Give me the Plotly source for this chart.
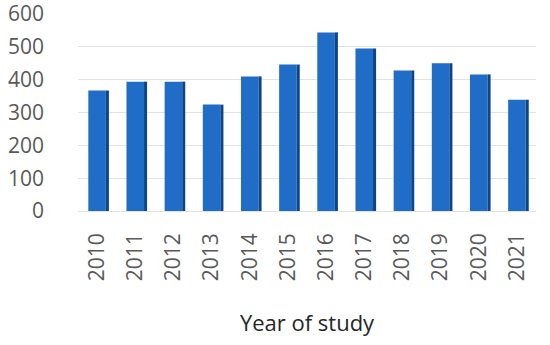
import plotly.graph_objects as go

years = ["2010", "2011", "2012", "2013", "2014", "2015", "2016", "2017", "2018", "2019", "2020", "2021"]
counts = [367, 394, 394, 324, 410, 446, 544, 495, 428, 450, 416, 339]
y_ticks = [0, 100, 200, 300, 400, 500, 600]

front_color = "#1F6DC6"
side_color = "#0E4685"

fig = go.Figure()
fig.add_trace(go.Bar(
    x=years, y=counts, width=0.46, offset=-0.23,
    marker=dict(color=front_color, line=dict(width=0)),
    showlegend=False, hoverinfo="x+y",
))
fig.add_trace(go.Bar(
    x=years, y=counts, width=0.08, offset=0.23,
    marker=dict(color=side_color, line=dict(width=0)),
    showlegend=False, hoverinfo="skip",
))

fig.update_layout(
    width=550, height=345,
    margin=dict(l=78, r=14, t=14, b=134, autoexpand=False),
    barmode="overlay",
    plot_bgcolor="white", paper_bgcolor="white",
    font=dict(family="Open Sans, Noto Sans, sans-serif", color="#595959", size=20),
    xaxis=dict(
        type="category",
        automargin=False,
        tickangle=-90,
        tickfont=dict(size=21, color="#595959"),
        showgrid=False, showline=False, zeroline=False,
        ticks="", ticklabelstandoff=17,
        ticklabeloverflow="allow",
        title=dict(text="Year of study", font=dict(size=22, color="#262626"), standoff=35),
    ),
    yaxis=dict(
        range=[0, 600],
        automargin=False,
        tickvals=y_ticks,
        ticktext=[str(v) for v in y_ticks],
        tickfont=dict(size=21, color="#595959"),
        showgrid=True, gridcolor="#E3E3E3", gridwidth=1,
        zeroline=True, zerolinecolor="#E3E3E3", zerolinewidth=1,
        showline=False, ticks="", ticklabelstandoff=33,
        ticklabeloverflow="allow",
    ),
)

fig.write_html(
    "out.html",
    config={"displayModeBar": False},
    post_script="document.body.style.margin='0';document.body.style.overflow='hidden';",
)
